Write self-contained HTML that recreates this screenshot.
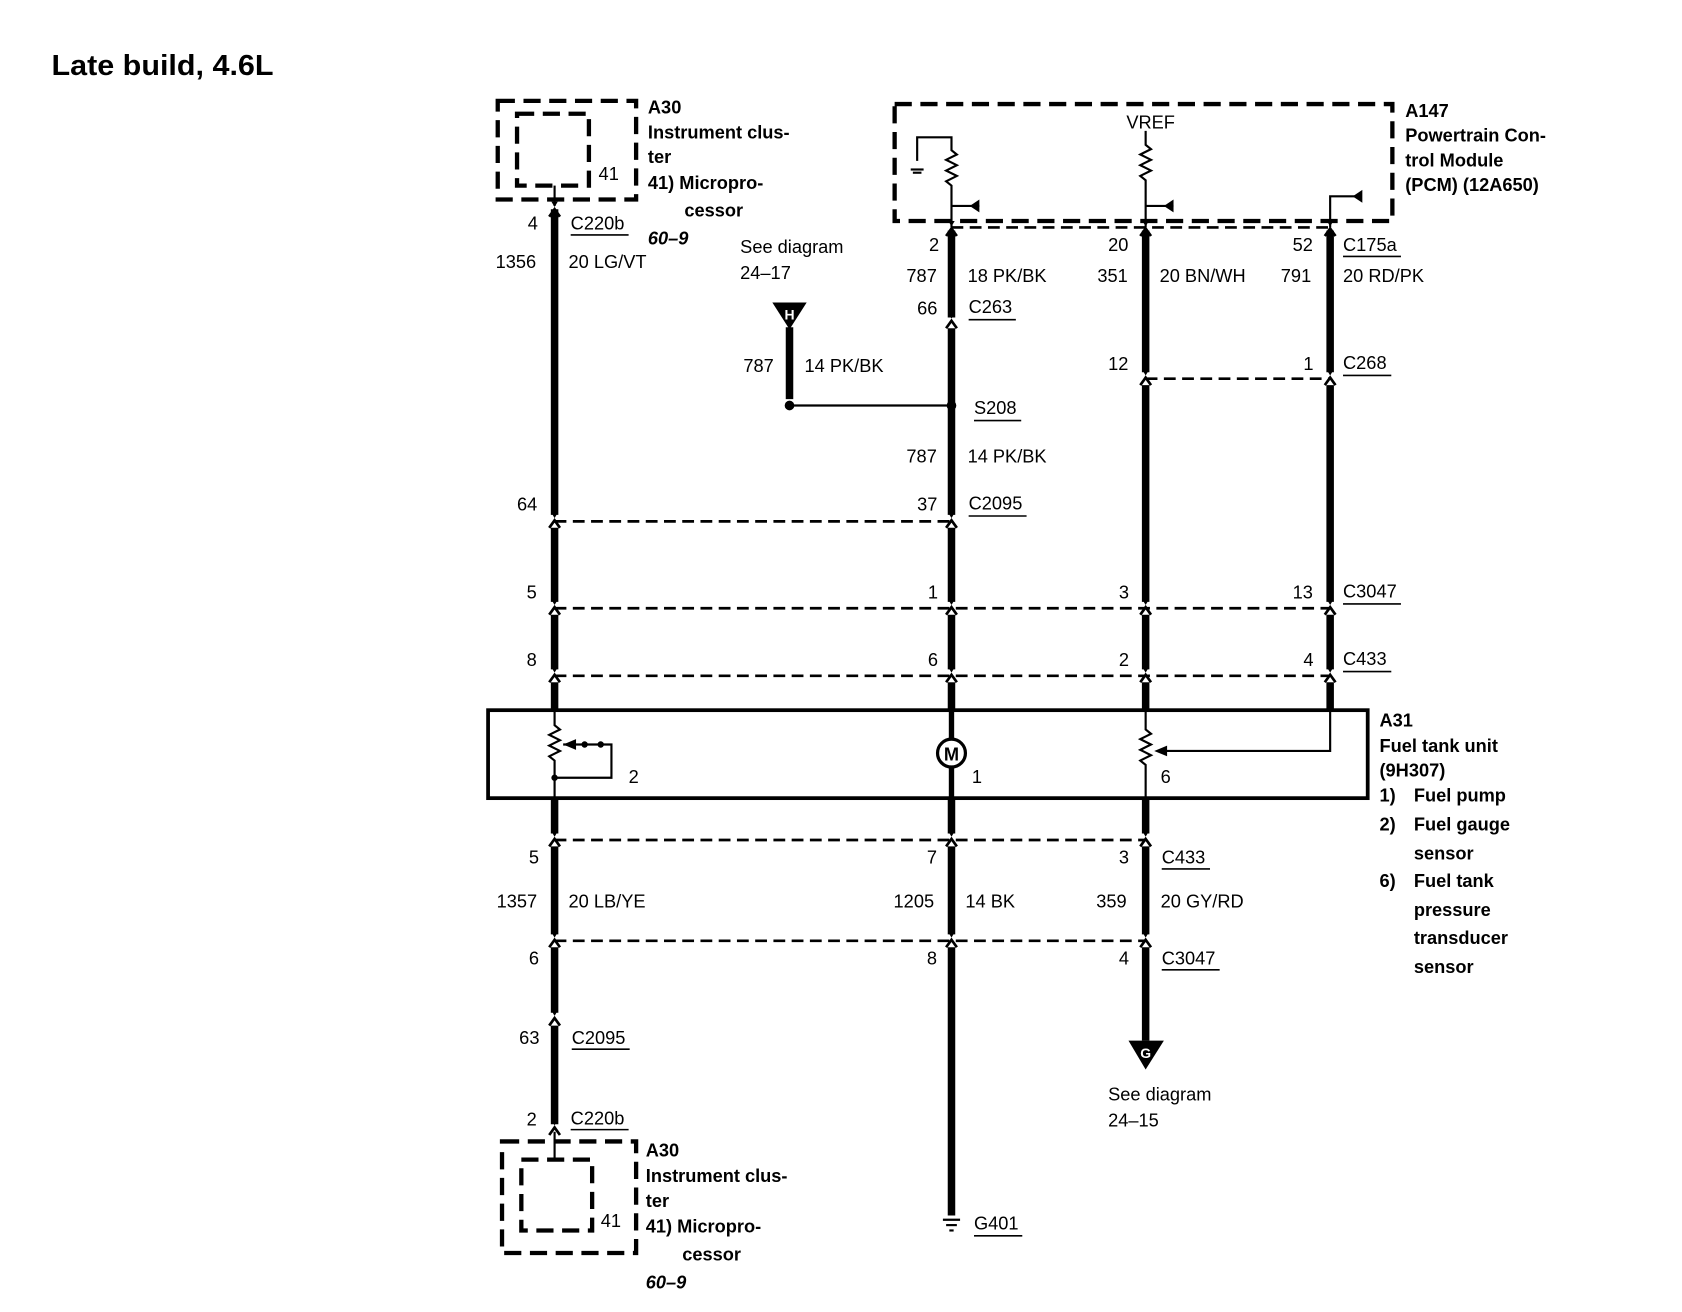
<!DOCTYPE html>
<html><head><meta charset="utf-8"><style>
html,body{margin:0;padding:0;background:#fff;}
svg{display:block}
text{font-family:"Liberation Sans",sans-serif;font-size:17px;fill:#000}
.b{font-weight:bold}
</style></head><body>
<svg width="1682" height="1312" viewBox="0 0 1568 1223" preserveAspectRatio="none" xmlns="http://www.w3.org/2000/svg">
<defs>
<g id="cn"><path d="M-5,6 L0,-1 L5,6" fill="none" stroke="#000" stroke-width="2.5"/><path d="M-3,-8 L0,-3 L3,-8Z" fill="#000"/></g>
</defs>
<text x="48" y="70" class="b" style="font-size:27px" textLength="207" lengthAdjust="spacingAndGlyphs">Late build, 4.6L</text>
<g fill="none" stroke="#000">
<rect x="464" y="94" width="129" height="92" stroke-width="4" stroke-dasharray="16,8"/>
<rect x="482" y="106" width="67" height="67" stroke-width="4" stroke-dasharray="16,8"/>
<line x1="517" y1="173" x2="517" y2="192" stroke-width="2"/>
<rect x="834" y="97" width="464" height="109" stroke-width="4" stroke-dasharray="16,8"/>
<polyline points="855,150 855,128 887,128 887,140 892,144 882,149 892,154 882,159 892,164 882,169 887,173 887,212" stroke-width="2"/>
<polyline points="1068,122 1068,135 1073,139 1063,144 1073,149 1063,154 1073,159 1063,164 1068,168 1068,212" stroke-width="2"/>
<line x1="887" y1="192" x2="913" y2="192" stroke-width="2"/>
<line x1="1068" y1="192" x2="1094" y2="192" stroke-width="2"/>
<polyline points="1240,212 1240,183 1264,183" stroke-width="2"/>
<line x1="849" y1="158" x2="861" y2="158" stroke-width="2"/><line x1="851" y1="161" x2="859" y2="161" stroke-width="2"/>
<g stroke-width="2.5" stroke-dasharray="11,6">
<line x1="887" y1="212" x2="1240" y2="212"/>
<line x1="1068" y1="353" x2="1240" y2="353"/>
<line x1="517" y1="486" x2="887" y2="486"/>
<line x1="517" y1="567" x2="1240" y2="567"/>
<line x1="517" y1="630" x2="1240" y2="630"/>
<line x1="517" y1="783" x2="1068" y2="783"/>
<line x1="517" y1="877" x2="1068" y2="877"/>
</g>
<g stroke-width="7">
<line x1="517" y1="195" x2="517" y2="480"/>
<line x1="517" y1="492" x2="517" y2="561"/>
<line x1="517" y1="573" x2="517" y2="624"/>
<line x1="517" y1="636" x2="517" y2="662"/>
<line x1="517" y1="744" x2="517" y2="777"/>
<line x1="517" y1="789" x2="517" y2="871"/>
<line x1="517" y1="883" x2="517" y2="944"/>
<line x1="517" y1="956" x2="517" y2="1048"/>
<line x1="887" y1="215" x2="887" y2="296"/>
<line x1="887" y1="306" x2="887" y2="480"/>
<line x1="887" y1="492" x2="887" y2="561"/>
<line x1="887" y1="573" x2="887" y2="624"/>
<line x1="887" y1="636" x2="887" y2="662"/>
<line x1="887" y1="744" x2="887" y2="777"/>
<line x1="887" y1="789" x2="887" y2="871"/>
<line x1="887" y1="883" x2="887" y2="1133"/>
<line x1="1068" y1="215" x2="1068" y2="347"/>
<line x1="1068" y1="359" x2="1068" y2="561"/>
<line x1="1068" y1="573" x2="1068" y2="624"/>
<line x1="1068" y1="636" x2="1068" y2="662"/>
<line x1="1068" y1="744" x2="1068" y2="777"/>
<line x1="1068" y1="789" x2="1068" y2="871"/>
<line x1="1068" y1="883" x2="1068" y2="970"/>
<line x1="1240" y1="215" x2="1240" y2="347"/>
<line x1="1240" y1="359" x2="1240" y2="561"/>
<line x1="1240" y1="573" x2="1240" y2="624"/>
<line x1="1240" y1="636" x2="1240" y2="662"/>
<line x1="736" y1="305" x2="736" y2="372"/>
</g>
<line x1="736" y1="378" x2="887" y2="378" stroke-width="2"/>
<rect x="455" y="662" width="820" height="82" stroke-width="3.5"/>
<polyline points="517,662 517,676 522,680 512,685 522,690 512,695 522,700 512,705 517,709 517,744" stroke-width="2"/>
<polyline points="525,694 570,694 570,725 517,725" stroke-width="2"/>
<line x1="887" y1="662" x2="887" y2="689" stroke-width="5"/>
<line x1="887" y1="715" x2="887" y2="744" stroke-width="5"/>
<circle cx="887" cy="702" r="13" stroke-width="3"/>
<polyline points="1068,662 1068,680 1073,684 1063,689 1073,694 1063,699 1073,704 1063,709 1068,713 1068,744" stroke-width="2"/>
<polyline points="1240,662 1240,700 1082,700" stroke-width="2"/>
<rect x="468" y="1064" width="125" height="104" stroke-width="4" stroke-dasharray="16,8"/>
<rect x="486" y="1081" width="66" height="66" stroke-width="4" stroke-dasharray="16,8"/>
<line x1="517" y1="1055" x2="517" y2="1081" stroke-width="2"/>
<line x1="879" y1="1137" x2="895" y2="1137" stroke-width="2"/>
<line x1="882" y1="1142" x2="892" y2="1142" stroke-width="2"/>
<line x1="885" y1="1147" x2="889" y2="1147" stroke-width="2"/>
</g>
<path d="M913,186 L913,198 L904,192Z"/><path d="M1094,186 L1094,198 L1085,192Z"/><path d="M1270,177 L1270,189 L1261,183Z"/>
<path d="M525,694 L537,689 L537,699Z"/><circle cx="545" cy="694" r="3"/><circle cx="560" cy="694" r="3"/><circle cx="517" cy="725" r="3"/>
<path d="M1076,700 L1088,695 L1088,705Z"/>
<circle cx="736" cy="378" r="4.5"/><circle cx="887" cy="378" r="4.5"/>
<path d="M720,282 L752,282 L736,307Z"/><text x="736" y="298" text-anchor="middle" style="fill:#fff;font-size:13px" class="b">H</text>
<path d="M1052,970 L1085,970 L1068,997Z"/><text x="1068" y="986" text-anchor="middle" style="fill:#fff;font-size:13px" class="b">G</text>
<text x="887" y="709" text-anchor="middle" class="b" style="font-size:17px">M</text>
<use href="#cn" x="517" y="196"/><use href="#cn" x="517" y="486"/><use href="#cn" x="517" y="567"/><use href="#cn" x="517" y="630"/><use href="#cn" x="517" y="783"/><use href="#cn" x="517" y="877"/><use href="#cn" x="517" y="950"/><use href="#cn" x="517" y="1052"/>
<use href="#cn" x="887" y="214"/><use href="#cn" x="887" y="300"/><use href="#cn" x="887" y="486"/><use href="#cn" x="887" y="567"/><use href="#cn" x="887" y="630"/><use href="#cn" x="887" y="783"/><use href="#cn" x="887" y="877"/>
<use href="#cn" x="1068" y="214"/><use href="#cn" x="1068" y="353"/><use href="#cn" x="1068" y="567"/><use href="#cn" x="1068" y="630"/><use href="#cn" x="1068" y="783"/><use href="#cn" x="1068" y="877"/>
<use href="#cn" x="1240" y="214"/><use href="#cn" x="1240" y="353"/><use href="#cn" x="1240" y="567"/><use href="#cn" x="1240" y="630"/>
<text x="558" y="168">41</text>
<text x="604" y="106" class="b">A30</text><text x="604" y="129" class="b">Instrument clus-</text><text x="604" y="152" class="b">ter</text><text x="604" y="176" class="b">41)  Micropro-</text><text x="638" y="202" class="b">cessor</text><text x="604" y="228" class="b" font-style="italic">60–9</text>
<text x="492" y="214">4</text><text x="532" y="214">C220b</text><line x1="532" y1="219" x2="586" y2="219" stroke="#000" stroke-width="1.5"/>
<text x="462" y="250">1356</text><text x="530" y="250">20 LG/VT</text>
<text x="1050" y="120">VREF</text>
<text x="1310" y="109" class="b">A147</text><text x="1310" y="132" class="b">Powertrain Con-</text><text x="1310" y="155" class="b">trol Module</text><text x="1310" y="178" class="b">(PCM) (12A650)</text>
<text x="866" y="234">2</text><text x="1033" y="234">20</text><text x="1205" y="234">52</text><text x="1252" y="234">C175a</text><line x1="1252" y1="239" x2="1306" y2="239" stroke="#000" stroke-width="1.5"/>
<text x="845" y="263">787</text><text x="902" y="263">18 PK/BK</text><text x="1023" y="263">351</text><text x="1081" y="263">20 BN/WH</text><text x="1194" y="263">791</text><text x="1252" y="263">20 RD/PK</text>
<text x="690" y="236">See diagram</text><text x="690" y="260">24–17</text>
<text x="855" y="293">66</text><text x="903" y="292">C263</text><line x1="903" y1="298" x2="947" y2="298" stroke="#000" stroke-width="1.5"/>
<text x="693" y="347">787</text><text x="750" y="347">14 PK/BK</text>
<text x="1033" y="345">12</text><text x="1215" y="345">1</text><text x="1252" y="344">C268</text><line x1="1252" y1="350" x2="1297" y2="350" stroke="#000" stroke-width="1.5"/>
<text x="908" y="386">S208</text><line x1="908" y1="392" x2="952" y2="392" stroke="#000" stroke-width="1.5"/>
<text x="845" y="431">787</text><text x="902" y="431">14 PK/BK</text>
<text x="482" y="476">64</text><text x="855" y="476">37</text><text x="903" y="475">C2095</text><line x1="903" y1="481" x2="957" y2="481" stroke="#000" stroke-width="1.5"/>
<text x="491" y="558">5</text><text x="865" y="558">1</text><text x="1043" y="558">3</text><text x="1205" y="558">13</text><text x="1252" y="557">C3047</text><line x1="1252" y1="563" x2="1306" y2="563" stroke="#000" stroke-width="1.5"/>
<text x="491" y="621">8</text><text x="865" y="621">6</text><text x="1043" y="621">2</text><text x="1215" y="621">4</text><text x="1252" y="620">C433</text><line x1="1252" y1="626" x2="1297" y2="626" stroke="#000" stroke-width="1.5"/>
<text x="586" y="730">2</text><text x="906" y="730">1</text><text x="1082" y="730">6</text>
<text x="1286" y="677" class="b">A31</text><text x="1286" y="701" class="b">Fuel tank unit</text><text x="1286" y="724" class="b">(9H307)</text>
<text x="1286" y="747" class="b">1)</text><text x="1318" y="747" class="b">Fuel pump</text>
<text x="1286" y="774" class="b">2)</text><text x="1318" y="774" class="b">Fuel gauge</text><text x="1318" y="801" class="b">sensor</text>
<text x="1286" y="827" class="b">6)</text><text x="1318" y="827" class="b">Fuel tank</text><text x="1318" y="854" class="b">pressure</text><text x="1318" y="880" class="b">transducer</text><text x="1318" y="907" class="b">sensor</text>
<text x="493" y="805">5</text><text x="864" y="805">7</text><text x="1043" y="805">3</text><text x="1083" y="805">C433</text><line x1="1083" y1="810" x2="1128" y2="810" stroke="#000" stroke-width="1.5"/>
<text x="463" y="846">1357</text><text x="530" y="846">20 LB/YE</text><text x="833" y="846">1205</text><text x="900" y="846">14 BK</text><text x="1022" y="846">359</text><text x="1082" y="846">20 GY/RD</text>
<text x="493" y="899">6</text><text x="864" y="899">8</text><text x="1043" y="899">4</text><text x="1083" y="899">C3047</text><line x1="1083" y1="904" x2="1137" y2="904" stroke="#000" stroke-width="1.5"/>
<text x="484" y="973">63</text><text x="533" y="973">C2095</text><line x1="533" y1="978" x2="587" y2="978" stroke="#000" stroke-width="1.5"/>
<text x="491" y="1049">2</text><text x="532" y="1048">C220b</text><line x1="532" y1="1053" x2="586" y2="1053" stroke="#000" stroke-width="1.5"/>
<text x="560" y="1144">41</text>
<text x="602" y="1078" class="b">A30</text><text x="602" y="1102" class="b">Instrument clus-</text><text x="602" y="1125" class="b">ter</text><text x="602" y="1149" class="b">41)  Micropro-</text><text x="636" y="1175" class="b">cessor</text><text x="602" y="1201" class="b" font-style="italic">60–9</text>
<text x="908" y="1146">G401</text><line x1="908" y1="1152" x2="953" y2="1152" stroke="#000" stroke-width="1.5"/>
<text x="1033" y="1026">See diagram</text><text x="1033" y="1050">24–15</text>
</svg>
</body></html>
